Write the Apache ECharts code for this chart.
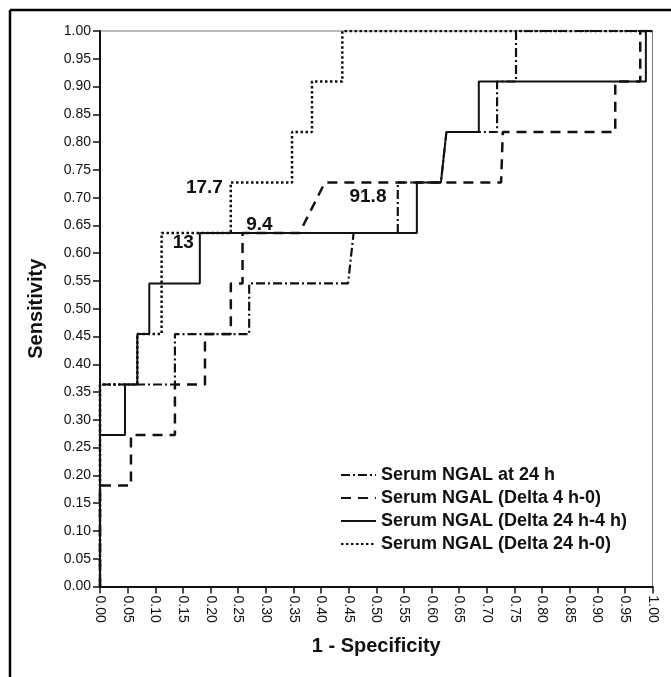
<!DOCTYPE html>
<html>
<head>
<meta charset="utf-8">
<script src="https://cdn.jsdelivr.net/npm/echarts@6/dist/echarts.min.js"></script>
<style>
html,body{margin:0;padding:0;background:#fff;}
#chart{width:671px;height:677px;}
</style>
</head>
<body>
<div id="chart"></div>
<script>
// Series names
const seriesNames = [
  'Serum NGAL at 24 h',
  'Serum NGAL (Delta 4 h-0)',
  'Serum NGAL (Delta 24 h-4 h)',
  'Serum NGAL (Delta 24 h-0)'
];

// ROC curves: [1 - specificity, sensitivity]
const at24h = [
  [0,0],[0,0.3636],[0.1356,0.3636],[0.1356,0.4545],[0.27,0.4545],[0.27,0.5455],
  [0.449,0.5455],[0.459,0.6364],[0.539,0.6364],[0.539,0.7273],[0.617,0.7273],
  [0.627,0.8182],[0.7187,0.8182],[0.7187,0.9091],[0.753,0.9091],[0.753,1],[1,1]
];
const delta4h0 = [
  [0,0],[0,0.1818],[0.056,0.1818],[0.056,0.2727],[0.1356,0.2727],[0.1356,0.3636],
  [0.19,0.3636],[0.19,0.4545],[0.2368,0.4545],[0.2368,0.5455],[0.258,0.5455],
  [0.258,0.6364],[0.361,0.6364],[0.407,0.7273],[0.726,0.7273],[0.729,0.8182],
  [0.9326,0.8182],[0.9326,0.9091],[0.9778,0.9091],[0.9778,1],[1,1]
];
const delta24h4h = [
  [0,0],[0,0.2727],[0.0452,0.2727],[0.0452,0.3636],[0.0675,0.3636],[0.0675,0.4545],
  [0.0892,0.4545],[0.0892,0.5455],[0.1807,0.5455],[0.1807,0.6364],[0.5735,0.6364],
  [0.5735,0.7273],[0.617,0.7273],[0.627,0.8182],[0.6856,0.8182],[0.6856,0.9091],
  [0.988,0.9091],[0.988,1],[1,1]
];
const delta24h0 = [
  [0,0],[0,0.3636],[0.0675,0.3636],[0.0675,0.4545],[0.1115,0.4545],[0.1115,0.6364],
  [0.2367,0.6364],[0.2367,0.7273],[0.3476,0.7273],[0.3476,0.8182],[0.3837,0.8182],
  [0.3837,0.9091],[0.4386,0.9091],[0.4386,1],[1,1]
];

// Cut-off annotations: [x, y, text]
const cutoffLabels = [
  [0.189, 0.7176, '17.7'],
  [0.1506, 0.6187, '13'],
  [0.2886, 0.6505, '9.4'],
  [0.485, 0.7014, '91.8']
];

const FONT = 'Liberation Sans, Arial, sans-serif';

const chart = echarts.init(document.getElementById('chart'), null, {renderer: 'canvas'});

function lineSeries(name, data, type, width, z) {
  return {
    name: name,
    type: 'line',
    data: data,
    symbol: 'none',
    showSymbol: false,
    animation: false,
    z: z,
    lineStyle: {color: '#111', width: width, type: type, cap: 'butt'},
    itemStyle: {color: '#111'}
  };
}

chart.setOption({
  animation: false,
  backgroundColor: '#fff',
  graphic: [
    {type: 'line', shape: {x1: 10, y1: 10, x2: 10, y2: 677}, style: {stroke: '#000', lineWidth: 2.5}},
    {type: 'line', shape: {x1: 10, y1: 10, x2: 671, y2: 10}, style: {stroke: '#000', lineWidth: 2.5}}
  ],
  grid: {
    left: 100, right: 18.5, top: 31, bottom: 90.5,
    show: true, borderColor: '#777', borderWidth: 1, backgroundColor: 'transparent'
  },
  legend: {
    orient: 'vertical',
    left: 335, top: 460,
    itemWidth: 35, itemHeight: 14, itemGap: 3,
    data: seriesNames,
    itemStyle: {color: 'rgba(0,0,0,0)', borderWidth: 0, opacity: 0},
    textStyle: {fontFamily: FONT, fontSize: 18, fontWeight: 'bold', color: '#111', lineHeight: 20}
  },
  xAxis: {
    type: 'value', min: 0, max: 1, interval: 0.05,
    name: '1 - Specificity', nameLocation: 'middle', nameGap: 50,
    nameTextStyle: {fontFamily: FONT, fontSize: 20, fontWeight: 'bold', color: '#111'},
    axisLine: {show: true, onZero: false, lineStyle: {color: '#111', width: 2}},
    axisTick: {show: true, length: 7, lineStyle: {color: '#111', width: 1.5}},
    axisLabel: {
      rotate: -90, margin: 9, fontFamily: FONT, fontSize: 14, color: '#111',
      formatter: v => v.toFixed(2)
    },
    splitLine: {show: false}
  },
  yAxis: {
    type: 'value', min: 0, max: 1, interval: 0.05,
    name: 'Sensitivity', nameLocation: 'middle', nameGap: 54,
    nameTextStyle: {fontFamily: FONT, fontSize: 20, fontWeight: 'bold', color: '#111'},
    axisLine: {show: true, onZero: false, lineStyle: {color: '#111', width: 2}},
    axisTick: {show: true, length: 7, lineStyle: {color: '#111', width: 1.5}},
    axisLabel: {
      margin: 9, fontFamily: FONT, fontSize: 14, color: '#111',
      formatter: v => v.toFixed(2)
    },
    splitLine: {show: false}
  },
  series: [
    lineSeries(seriesNames[0], at24h, [9, 3, 2, 3], 2.2, 3),
    lineSeries(seriesNames[1], delta4h0, [10, 7], 2.5, 2),
    lineSeries(seriesNames[2], delta24h4h, 'solid', 2, 4),
    lineSeries(seriesNames[3], delta24h0, [2.5, 2.5], 2.5, 3),
    {
      name: 'cutoffs',
      type: 'scatter',
      symbolSize: 0,
      silent: true,
      z: 10,
      itemStyle: {color: '#111', opacity: 1},
      data: cutoffLabels.map(d => ({value: [d[0], d[1]], name: d[2]})),
      label: {
        show: true, position: 'inside', opacity: 1,
        formatter: p => p.name,
        fontFamily: FONT, fontSize: 19, fontWeight: 'bold', color: '#111',
        textBorderWidth: 0
      }
    }
  ]
});
</script>
</body>
</html>
